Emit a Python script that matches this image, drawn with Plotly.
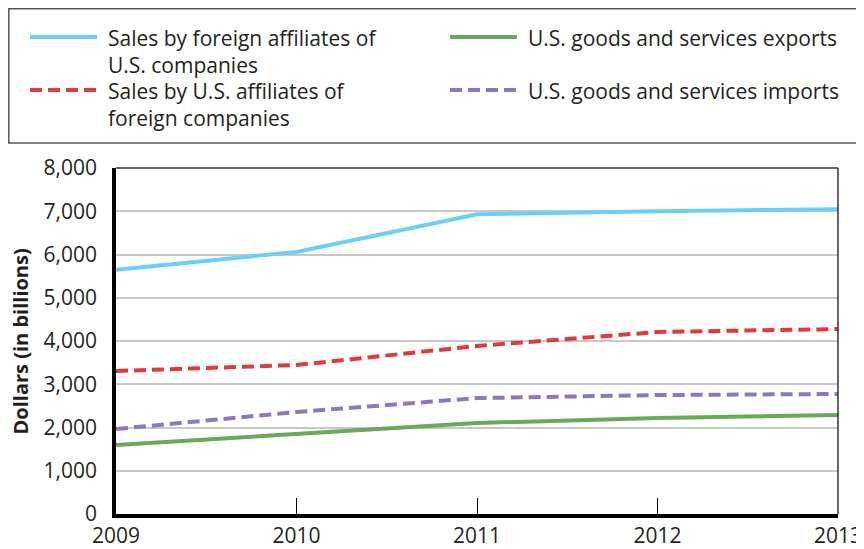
import plotly.graph_objects as go

years = [2009, 2010, 2011, 2012, 2013]
foreign_affiliates_us = [5650, 6060, 6930, 7000, 7045]
us_affiliates_foreign = [3306, 3445, 3885, 4208, 4277]
exports = [1595, 1850, 2104, 2220, 2290]
imports = [1965, 2358, 2680, 2750, 2775]
y_ticks = [0, 1000, 2000, 3000, 4000, 5000, 6000, 7000, 8000]

names = ["Sales by foreign affiliates of<br>U.S. companies",
         "U.S. goods and services exports",
         "Sales by U.S. affiliates of<br>foreign companies",
         "U.S. goods and services imports"]
colors = ["#6DCFF6", "#6AA85C", "#E0393E", "#8E78B5"]
dashes = ["solid", "solid", "12px,6px", "12px,6px"]
series = [foreign_affiliates_us, exports, us_affiliates_foreign, imports]
y_title = "Dollars (in billions)"

FONT = "Open Sans"
TXT = "#231f20"
fig = go.Figure()
for nm, c, d, s in zip(names, colors, dashes, series):
    fig.add_trace(go.Scatter(x=years, y=s, mode="lines", name=nm, showlegend=False,
                             line=dict(color=c, width=4, dash=d)))

# page has an 8px body margin; work in page coordinates and convert
OFF = 8
W, H = 864 - OFF, 549 - OFF
L, R, T, B = 116 - OFF, 26, 168 - OFF, 35
pw, ph = W - L - R, H - T - B

def px_x(x):
    return (x - OFF - L) / pw

def px_y(y):
    return (H - B - (y - OFF)) / ph

shapes = [
    dict(type="rect", xref="paper", yref="paper", x0=px_x(8.8), x1=px_x(858),
         y0=px_y(143), y1=px_y(8.8), line=dict(color="#555555", width=1.5)),
    dict(type="line", xref="paper", yref="paper", x0=0, x1=1, y0=1, y1=1,
         line=dict(color="#333333", width=1.5)),
    dict(type="line", xref="paper", yref="paper", x0=1, x1=1, y0=0, y1=1,
         line=dict(color="#333333", width=1.5)),
]

# manual legend (2 columns)
leg_pos = [(30, 37), (450, 37), (30, 90), (450, 90)]
annotations = []
for (lx, ly), nm, c, d in zip(leg_pos, names, colors, dashes):
    shapes.append(dict(type="line", xref="paper", yref="paper",
                       x0=px_x(lx), x1=px_x(lx + 67), y0=px_y(ly), y1=px_y(ly),
                       line=dict(color=c, width=4, dash=d)))
    nlines = nm.count("<br>") + 1
    ty = ly + 1 + 13.5 * (nlines - 1)
    annotations.append(dict(xref="paper", yref="paper", x=px_x(lx + 76),
                            y=px_y(ty), xanchor="left", yanchor="middle", align="left",
                            text=nm, showarrow=False,
                            font=dict(family=FONT, size=21, color=TXT)))

# y-axis title
annotations.append(dict(xref="paper", yref="paper", x=px_x(19.5), y=px_y(342),
                        xanchor="center", yanchor="middle", textangle=-90,
                        text="<b>" + y_title + "</b>", showarrow=False,
                        font=dict(family=FONT, size=20, color=TXT)))

fig.update_layout(
    width=W, height=H,
    margin=dict(l=L, r=R, t=T, b=B, autoexpand=False),
    paper_bgcolor="white", plot_bgcolor="white",
    font=dict(family=FONT, size=21, color=TXT),
    shapes=shapes, annotations=annotations,
    showlegend=False,
    xaxis=dict(range=[2009, 2013], tickvals=years, ticktext=[str(y) for y in years],
               automargin=False,
               showgrid=False, zeroline=False, showline=True, linecolor="black",
               linewidth=3.5, ticks="inside", ticklen=16, tickcolor="black", tickwidth=1,
               tickfont=dict(size=21), ticklabelstandoff=0),
    yaxis=dict(range=[0, 8000], tickvals=y_ticks, tickformat=",", showgrid=True,
               automargin=False,
               gridcolor="#c8c8c8", gridwidth=1.5, zeroline=False, showline=True,
               linecolor="black", linewidth=3.5, ticks="", ticklabelstandoff=11,
               tickfont=dict(size=21)),
)

fig.write_html("out.html")
